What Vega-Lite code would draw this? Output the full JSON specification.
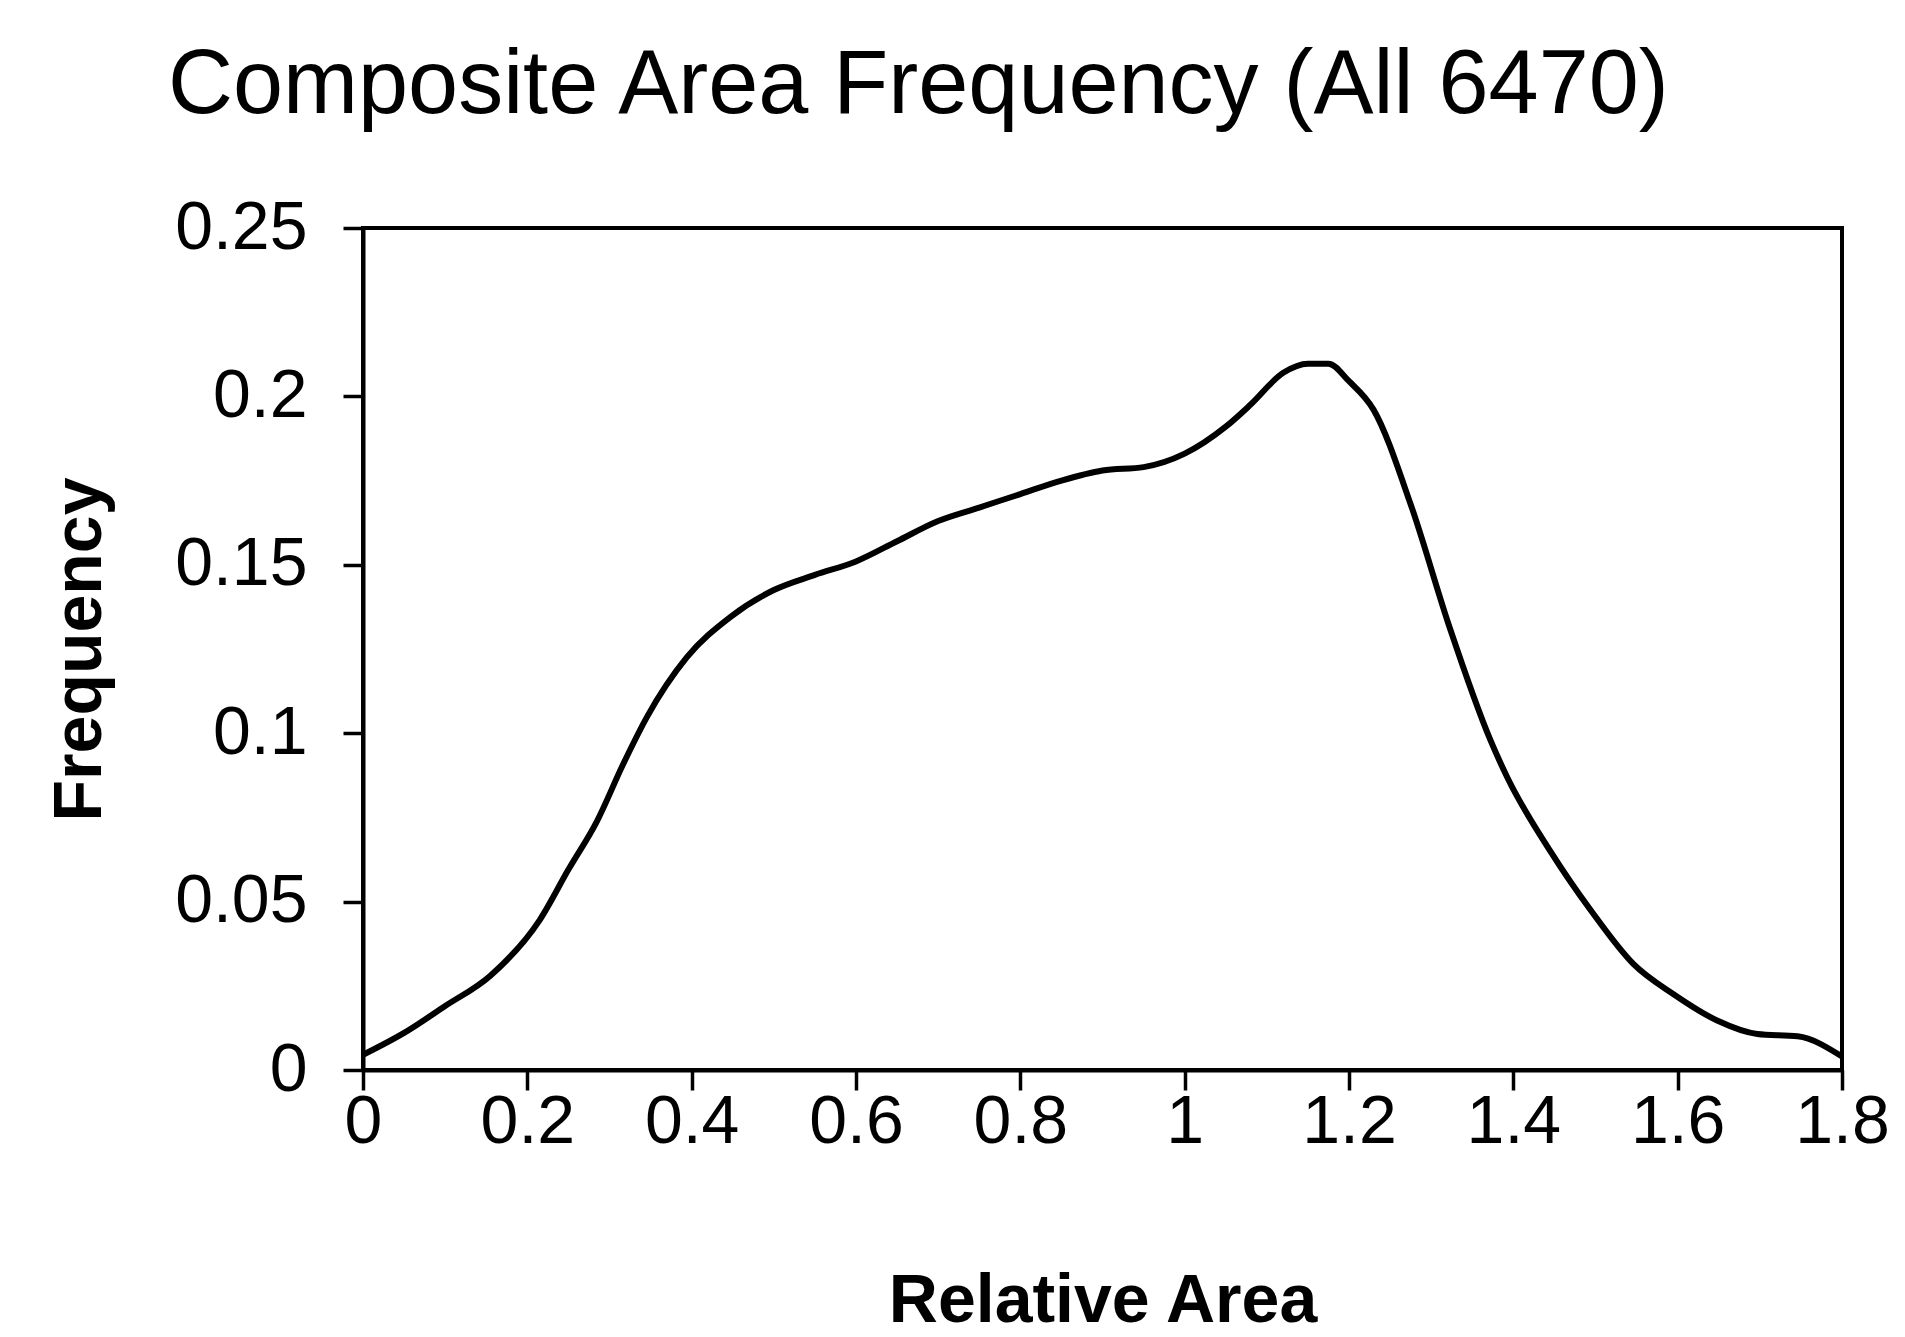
{
  "$schema": "https://vega.github.io/schema/vega-lite/v6.json",
  "autosize": {"type": "none"},
  "padding": {"left": 363, "top": 228, "right": 63, "bottom": 267},
  "width": 1479,
  "height": 842,
  "background": "white",
  "title": {
    "text": "Composite Area Frequency (All 6470)",
    "anchor": "start",
    "frame": "group",
    "dx": -195,
    "offset": 62,
    "font": "Liberation Sans",
    "fontSize": 90,
    "fontWeight": "normal",
    "color": "black"
  },
  "data": {
    "values": [
      {"area": 0.0, "freq": 0.0045},
      {"area": 0.05, "freq": 0.011},
      {"area": 0.1, "freq": 0.019},
      {"area": 0.155, "freq": 0.028},
      {"area": 0.215, "freq": 0.0445},
      {"area": 0.25, "freq": 0.0595},
      {"area": 0.285, "freq": 0.074},
      {"area": 0.317, "freq": 0.091},
      {"area": 0.346, "freq": 0.105},
      {"area": 0.394, "freq": 0.1225},
      {"area": 0.447, "freq": 0.1345},
      {"area": 0.5, "freq": 0.1425},
      {"area": 0.55, "freq": 0.147},
      {"area": 0.6, "freq": 0.151},
      {"area": 0.65, "freq": 0.157},
      {"area": 0.7, "freq": 0.163},
      {"area": 0.75, "freq": 0.167},
      {"area": 0.8, "freq": 0.171},
      {"area": 0.85, "freq": 0.175},
      {"area": 0.9, "freq": 0.178},
      {"area": 0.95, "freq": 0.179},
      {"area": 1.0, "freq": 0.183},
      {"area": 1.05, "freq": 0.191},
      {"area": 1.08, "freq": 0.1975},
      {"area": 1.12, "freq": 0.207},
      {"area": 1.15, "freq": 0.2097},
      {"area": 1.175, "freq": 0.2097},
      {"area": 1.2, "freq": 0.2045},
      {"area": 1.23, "freq": 0.196},
      {"area": 1.275, "freq": 0.168},
      {"area": 1.323, "freq": 0.131},
      {"area": 1.372, "freq": 0.098},
      {"area": 1.393, "freq": 0.0867},
      {"area": 1.445, "freq": 0.065},
      {"area": 1.494, "freq": 0.0475},
      {"area": 1.546, "freq": 0.0315},
      {"area": 1.595, "freq": 0.0225},
      {"area": 1.648, "freq": 0.0147},
      {"area": 1.697, "freq": 0.0107},
      {"area": 1.746, "freq": 0.0100},
      {"area": 1.8, "freq": 0.004}
    ]
  },
  "mark": {"type": "line", "color": "black", "strokeWidth": 6, "interpolate": "monotone"},
  "encoding": {
    "x": {
      "field": "area",
      "type": "quantitative",
      "scale": {"domain": [0, 1.8], "nice": false, "zero": false},
      "axis": {
        "title": "Relative Area",
        "values": [0, 0.2, 0.4, 0.6, 0.8, 1, 1.2, 1.4, 1.6, 1.8],
        "format": "~g",
        "grid": false,
        "tickSize": 20,
        "labelPadding": -2,
        "titlePadding": 111,
        "labelFlush": false,
        "labelOverlap": false
      }
    },
    "y": {
      "field": "freq",
      "type": "quantitative",
      "scale": {"domain": [0, 0.25], "nice": false},
      "axis": {
        "title": "Frequency",
        "values": [0, 0.05, 0.1, 0.15, 0.2, 0.25],
        "format": "~g",
        "grid": false,
        "tickSize": 20,
        "labelPadding": 36,
        "titlePadding": 60,
        "labelFlush": false,
        "labelOverlap": false
      }
    }
  },
  "config": {
    "view": {"stroke": "black", "strokeWidth": 4},
    "axis": {
      "domainColor": "black",
      "domainWidth": 4,
      "tickColor": "black",
      "tickWidth": 3.5,
      "labelFont": "Liberation Sans",
      "labelFontSize": 68,
      "labelColor": "black",
      "titleFont": "Liberation Sans",
      "titleFontSize": 68,
      "titleFontWeight": "bold",
      "titleColor": "black"
    }
  }
}
